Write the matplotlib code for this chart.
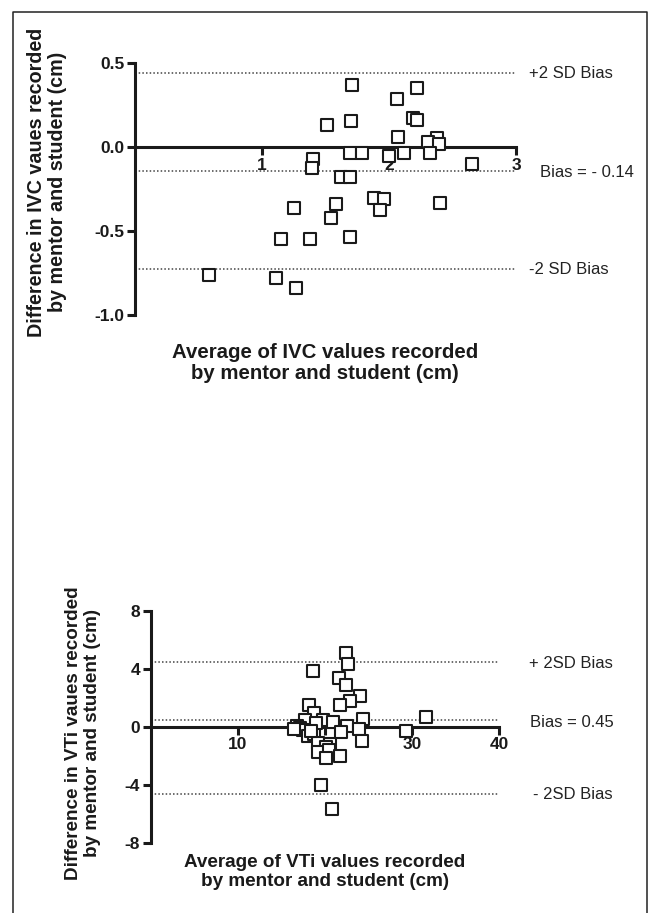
import matplotlib.pyplot as plt
from matplotlib.lines import Line2D

plt.rcParams['font.family'] = ['Liberation Sans', 'DejaVu Sans']
plt.rcParams['axes.unicode_minus'] = False

# IVC: average vs difference (cm)
ivc_avg = [1.71, 2.22, 2.06, 1.51, 1.70, 2.19, 2.22, 2.07, 2.38, 2.31, 2.39,
           1.69, 1.79, 2.12, 2.32, 2.00, 1.40, 1.39, 2.65, 1.62, 1.69, 1.88,
           1.96, 1.93, 2.40, 1.58, 1.25, 1.54, 1.15, 1.38, 1.69, 0.58, 1.11, 1.27]
ivc_diff = [0.37, 0.35, 0.29, 0.135, 0.157, 0.176, 0.164, 0.061, 0.055, 0.03, 0.018,
            -0.032, -0.034, -0.032, -0.032, -0.05, -0.07, -0.121, -0.10, -0.175, -0.177, -0.30,
            -0.31, -0.375, -0.332, -0.34, -0.359, -0.423, -0.544, -0.544, -0.534, -0.76, -0.776, -0.836]
ivc_bias = -0.14
ivc_upper = 0.444
ivc_lower = -0.724

# VTi: average vs difference (cm)
vti_avg = [22.4, 22.7, 18.6, 21.6, 22.4, 24.0, 22.9, 21.7, 18.2, 18.8, 31.6, 24.4,
           17.7, 19.8, 20.9, 22.5, 16.8, 17.1, 17.5, 16.5, 23.9, 29.3, 21.9, 18.1,
           18.7, 24.2, 19.2, 20.6, 20.1, 19.2, 20.5, 21.7, 20.1, 19.5, 20.8, 19.0, 18.4]
vti_diff = [5.06, 4.3, 3.85, 3.4, 2.9, 2.1, 1.8, 1.5, 1.5, 0.97, 0.7, 0.58,
            0.45, 0.47, 0.33, 0.08, 0.05, -0.05, -0.2, -0.15, -0.14, -0.25, -0.35, -0.6,
            -0.5, -0.93, -1.1, -1.15, -1.38, -1.72, -1.6, -1.97, -2.12, -3.96, -5.64, 0.3, -0.3]
vti_bias = 0.45
vti_upper = 4.5
vti_lower = -4.6

W, H = 652, 913
fig = plt.figure(figsize=(W / 100, H / 100), dpi=100)

# outer frame (open at the bottom)
frame = Line2D([13 / W, 13 / W, 647 / W, 647 / W], [0, 1 - 12 / H, 1 - 12 / H, 0],
               transform=fig.transFigure, color='#222222', lw=1.1)
fig.add_artist(frame)


def style_axes(ax):
    ax.spines['top'].set_visible(False)
    ax.spines['right'].set_visible(False)
    ax.spines['bottom'].set_position(('data', 0))
    for s in ('left', 'bottom'):
        ax.spines[s].set_linewidth(2.2)
        ax.spines[s].set_color('#1a1a1a')
    ax.tick_params(width=2.2, length=6, color='#1a1a1a', labelsize=12.5, pad=1.5)
    for lab in ax.get_xticklabels() + ax.get_yticklabels():
        lab.set_fontweight('bold')
        lab.set_color('#1a1a1a')


def bland_altman(ax, x, y, bias, upper, lower):
    for v in (upper, bias, lower):
        ax.axhline(v, color='#444444', lw=1.1, ls=(0, (1, 1.4)), zorder=1)
    ax.scatter(x, y, marker='s', s=64, facecolors='white', edgecolors='#1a1a1a',
               linewidths=1.5, zorder=3, clip_on=False)


def note(x, y, txt):
    fig.text(x / W, 1 - y / H, txt, fontsize=12, va='center', ha='left', color='#222222')


# top panel
ax1 = fig.add_axes([135 / W, 1 - 315.3 / H, 381 / W, 252 / H])
bland_altman(ax1, ivc_avg, ivc_diff, ivc_bias, ivc_upper, ivc_lower)
ax1.set_xlim(0, 3)
ax1.set_ylim(-1.0, 0.5)
ax1.set_xticks([1, 2, 3])
ax1.set_yticks([0.5, 0.0, -0.5, -1.0])
ax1.set_yticklabels(['0.5', '0.0', '-0.5', '-1.0'])
style_axes(ax1)

note(529, 73, '+2 SD Bias')
note(540, 172, 'Bias = - 0.14')
note(529, 270, '-2 SD Bias')

fig.text(325 / W, 1 - 363 / H, 'Average of IVC values recorded\nby mentor and student (cm)',
         fontsize=14.7, fontweight='bold', ha='center', va='center', linespacing=1.15,
         color='#1a1a1a')
fig.text(47 / W, 1 - 182 / H, 'Difference in IVC vaues recorded\nby mentor and student (cm)',
         fontsize=14.2, fontweight='bold', ha='center', va='center', rotation=90,
         linespacing=1.15, color='#1a1a1a')

# bottom panel
ax2 = fig.add_axes([150.5 / W, 1 - 843.3 / H, 348.8 / W, 232.6 / H])
bland_altman(ax2, vti_avg, vti_diff, vti_bias, vti_upper, vti_lower)
ax2.set_xlim(0, 40)
ax2.set_ylim(-8, 8)
ax2.set_xticks([10, 20, 30, 40])
ax2.set_yticks([8, 4, 0, -4, -8])
style_axes(ax2)

note(529, 663, '+ 2SD Bias')
note(530, 722, 'Bias = 0.45')
note(533, 794, '- 2SD Bias')

fig.text(325 / W, 1 - 872 / H, 'Average of VTi values recorded\nby mentor and student (cm)',
         fontsize=13.6, fontweight='bold', ha='center', va='center', linespacing=1.1,
         color='#1a1a1a')
fig.text(83 / W, 1 - 733 / H, 'Difference in VTi vaues recorded\nby mentor and student (cm)',
         fontsize=13.6, fontweight='bold', ha='center', va='center', rotation=90,
         linespacing=1.15, color='#1a1a1a')

fig.savefig('out.png', dpi=100)
